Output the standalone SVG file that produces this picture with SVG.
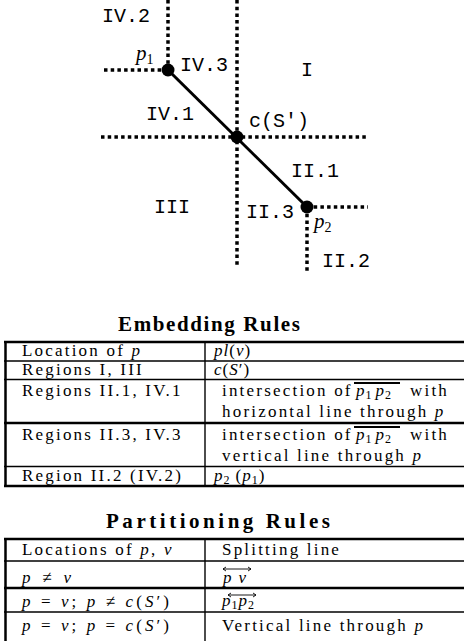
<svg xmlns="http://www.w3.org/2000/svg" width="464" height="641" viewBox="0 0 464 641">
<style>
.dot{stroke:#000;stroke-width:3.5;stroke-dasharray:3.5 3.2;fill:none}
.seg{stroke:#000;stroke-width:3;fill:none}
.pt{fill:#000}
.mono{font-family:"Liberation Mono","DejaVu Sans Mono",monospace;font-size:20px;fill:#000}
.lab{font-family:"Liberation Serif","DejaVu Serif",serif;font-size:21px;font-style:italic;fill:#000}
.sub{font-style:normal;font-size:14px}
.t{font-family:"Liberation Serif","DejaVu Serif",serif;font-size:17px;letter-spacing:2.2px;fill:#000}
.m{font-family:"Liberation Serif","DejaVu Serif",serif;font-size:17px;letter-spacing:1px;fill:#000}
.ttl{font-family:"Liberation Serif","DejaVu Serif",serif;font-size:21px;font-weight:bold;fill:#000}
.i{font-style:italic}
.ts{font-size:12px;font-style:normal}
.thick{stroke:#000;stroke-width:2.5;fill:none}
.thin{stroke:#000;stroke-width:1.4;fill:none}
.arr{stroke:#000;stroke-width:0.9;fill:none}
</style>
<g id="connectors">
<line class="dot" x1="168" y1="0" x2="168" y2="70"/>
<line class="dot" x1="237" y1="0" x2="237" y2="267"/>
<line class="dot" x1="104" y1="70" x2="168" y2="70"/>
<line class="dot" x1="101" y1="137" x2="368" y2="137"/>
<line class="dot" x1="307" y1="207" x2="368" y2="207"/>
<line class="dot" x1="307" y1="207" x2="307" y2="272"/>
<line class="seg" x1="168" y1="70" x2="307" y2="207"/>
</g>
<g id="p1"><circle class="pt" cx="168" cy="70" r="6.5"/><text class="lab" x="136" y="60">p<tspan class="sub" dy="4">1</tspan></text></g>
<g id="c"><circle class="pt" cx="237" cy="137" r="6.5"/><text class="mono" x="249" y="127">c(S')</text></g>
<g id="p2"><circle class="pt" cx="307" cy="207" r="6.5"/><text class="lab" x="314" y="228">p<tspan class="sub" dy="4">2</tspan></text></g>
<g id="regions">
<text class="mono" x="102" y="22">IV.2</text>
<text class="mono" x="180" y="71">IV.3</text>
<text class="mono" x="301" y="76">I</text>
<text class="mono" x="146" y="120">IV.1</text>
<text class="mono" x="291" y="177">II.1</text>
<text class="mono" x="154" y="213">III</text>
<text class="mono" x="246" y="218">II.3</text>
<text class="mono" x="322" y="267">II.2</text>
</g>
<g id="embedding">
<text class="ttl" x="118" y="331" textLength="182">Embedding Rules</text>
<line class="thick" x1="4" y1="342" x2="464" y2="342"/>
<line class="thin" x1="4" y1="361" x2="464" y2="361"/>
<line class="thin" x1="4" y1="379.5" x2="464" y2="379.5"/>
<line class="thick" x1="4" y1="423" x2="464" y2="423"/>
<line class="thin" x1="4" y1="466.5" x2="464" y2="466.5"/>
<line class="thick" x1="4" y1="486" x2="464" y2="486"/>
<line class="thick" x1="5.5" y1="341" x2="5.5" y2="487"/>
<line class="thin" x1="205" y1="342" x2="205" y2="486"/>
<text class="t" x="22" y="356">Location of <tspan class="i">p</tspan></text>
<text class="m" x="214" y="356"><tspan class="i">pl</tspan>(<tspan class="i">v</tspan>)</text>
<text class="t" x="22" y="375">Regions I, III</text>
<text class="m" x="214" y="375"><tspan class="i">c</tspan>(<tspan class="i">S</tspan>′)</text>
<text class="t" x="22" y="396">Regions II.1, IV.1</text>
<text class="t" x="222" y="396">intersection of</text>
<text class="m" x="356" y="396"><tspan class="i">p</tspan><tspan class="ts" dy="3">1</tspan><tspan class="i" dx="3" dy="-3">p</tspan><tspan class="ts" dy="3">2</tspan></text>
<line class="thick" x1="354" y1="383" x2="400" y2="383" style="stroke-width:2"/>
<text class="t" x="410" y="396">with</text>
<text class="t" x="222" y="417">horizontal line through <tspan class="i">p</tspan></text>
<text class="t" x="22" y="440">Regions II.3, IV.3</text>
<text class="t" x="222" y="440">intersection of</text>
<text class="m" x="356" y="440"><tspan class="i">p</tspan><tspan class="ts" dy="3">1</tspan><tspan class="i" dx="3" dy="-3">p</tspan><tspan class="ts" dy="3">2</tspan></text>
<line class="thick" x1="354" y1="427" x2="400" y2="427" style="stroke-width:2"/>
<text class="t" x="410" y="440">with</text>
<text class="t" x="222" y="461">vertical line through <tspan class="i">p</tspan></text>
<text class="t" x="22" y="481">Region II.2 (IV.2)</text>
<text class="m" x="214" y="481"><tspan class="i">p</tspan><tspan class="ts" dy="3">2</tspan><tspan dx="5" dy="-3">(</tspan><tspan class="i">p</tspan><tspan class="ts" dy="3">1</tspan><tspan dy="-3">)</tspan></text>
</g>
<g id="partitioning">
<text class="ttl" x="106" y="528" textLength="224">Partitioning Rules</text>
<line class="thick" x1="4" y1="539" x2="464" y2="539"/>
<line class="thin" x1="4" y1="561" x2="464" y2="561"/>
<line class="thick" x1="4" y1="588" x2="464" y2="588"/>
<line class="thin" x1="4" y1="612" x2="464" y2="612"/>
<line class="thick" x1="5.5" y1="538" x2="5.5" y2="641"/>
<line class="thin" x1="205" y1="539" x2="205" y2="641"/>
<text class="t" x="22" y="555">Locations of <tspan class="i">p</tspan>, <tspan class="i">v</tspan></text>
<text class="t" x="222" y="555">Splitting line</text>
<text class="m" x="22" y="583" textLength="50"><tspan class="i">p</tspan> ≠ <tspan class="i">v</tspan></text>
<text class="m" x="223" y="583" textLength="24"><tspan class="i">p v</tspan></text>
<path class="arr" d="M223 569H251M226 567L223 569L226 571M248 567L251 569L248 571"/>
<text class="m" x="22" y="607" textLength="148"><tspan class="i">p</tspan> = <tspan class="i">v</tspan>; <tspan class="i">p</tspan> ≠ <tspan class="i">c</tspan>(<tspan class="i">S</tspan>′)</text>
<text class="m" x="222" y="606"><tspan class="i">p</tspan><tspan class="ts" dy="3">1</tspan><tspan class="i" dy="-3">p</tspan><tspan class="ts" dy="3">2</tspan></text>
<path class="arr" d="M228 595H256M231 593L228 595L231 597M253 593L256 595L253 597"/>
<text class="m" x="22" y="631" textLength="148"><tspan class="i">p</tspan> = <tspan class="i">v</tspan>; <tspan class="i">p</tspan> = <tspan class="i">c</tspan>(<tspan class="i">S</tspan>′)</text>
<text class="t" x="222" y="631">Vertical line through <tspan class="i">p</tspan></text>
</g>
</svg>
